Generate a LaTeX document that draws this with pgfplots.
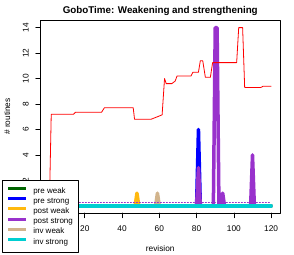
\documentclass[border=0pt]{standalone}
\usepackage{fontspec}
\setmainfont{Liberation Sans}
\usepackage{pgfplots}
\pgfplotsset{compat=1.18}
\definecolor{cpreweak}{RGB}{0,100,0}
\definecolor{cprestrong}{RGB}{0,0,255}
\definecolor{cpostweak}{RGB}{255,185,15}
\definecolor{cpoststrong}{RGB}{153,50,204}
\definecolor{cinvweak}{RGB}{210,180,140}
\definecolor{cinvstrong}{RGB}{0,206,209}
\begin{document}
\begin{tikzpicture}[x=1pt,y=1pt]
\path[use as bounding box] (0,0) rectangle (294,254);
\begin{axis}[
  at={(40.5pt,41pt)}, anchor=south west,
  width=239.5pt, height=192.5pt, scale only axis,
  xmin=-3.76, xmax=124.76, ymin=-0.56, ymax=14.56,
  axis line style={line width=0.7pt},
  xtick={0,20,...,120}, ytick={0,2,...,14},
  xtick pos=bottom, ytick pos=left,
  tick align=outside, major tick length=4.8pt,
  tick style={line width=0.6pt, black},
  /pgf/number format/assume math mode=true,
  ticklabel style={font=\fontsize{8.3}{10}\selectfont},
  xticklabel shift=4pt,
  yticklabel style={rotate=90, anchor=south},
  yticklabel shift=3.5pt,
  line join=round, line cap=round,
  legend style={at={(axis description cs:-0.1608,0.1714)}, anchor=north west,
    draw=black, line width=0.6pt, fill=white, inner xsep=4.5pt, inner ysep=5.5pt,
    font=\fontsize{8}{10}\selectfont, row sep=0pt,
    nodes={inner sep=1pt, text height=6.2pt, text depth=2pt},
    /tikz/every odd column/.append style={column sep=4.5pt}},
  legend cell align=left,
  legend image code/.code={\draw[#1, line width=3pt, line cap=butt] (0pt,2.5pt) -- (18pt,2.5pt);},
]
\addplot[cpreweak, line width=3.5pt] coordinates {(1,0) (120,0)};
\addlegendentry{pre weak}
\addplot[cprestrong, line width=3.5pt] coordinates {(1,0) (80,0) (81,6) (82,0) (120,0)};
\addlegendentry{pre strong}
\addplot[cpostweak, line width=3.5pt] coordinates {(1,0) (47,0) (48,1) (49,0) (120,0)};
\addlegendentry{post weak}
\addplot[cpoststrong, line width=3.5pt] coordinates {(1,0) (80,0) (81,3) (82,0) (89,0) (90,14) (91,14) (92,0) (93,0) (94,1) (95,0) (109,0) (110,4) (111,0) (120,0)};
\addlegendentry{post strong}
\addplot[cinvweak, line width=3.5pt] coordinates {(1,0) (58,0) (59,1) (60,0) (120,0)};
\addlegendentry{inv weak}
\addplot[cinvstrong, line width=3.5pt] coordinates {(1,0) (120,0)};
\addlegendentry{inv strong}
\addplot[cpoststrong, line width=1pt, dash pattern=on 1pt off 2pt, forget plot] coordinates {(1,0.3) (120,0.3)};
\addplot[red, line width=0.8pt, forget plot] coordinates {
(1,0) (2,7.2) (14,7.2) (15,7.35) (29,7.35) (30.5,7.7) (46,7.7) (46.7,6.8) (55.5,6.8) (59,7.0) (61.5,7.15) (62.8,10.0) (63.7,9.6) (66.7,9.6) (68.5,9.8) (69.5,10.2) (77,10.2) (78,10.5) (81,10.5) (82,11.4) (83.3,11.4) (84.7,10.1) (87.4,10.1) (88.6,11.25) (101.5,11.25) (102.6,14) (104.7,14) (105.8,9.3) (114.5,9.3) (115.7,9.4) (120,9.4)};
\end{axis}
\node[anchor=base, font=\fontsize{9.8}{12}\selectfont\bfseries] at (160.25,240) {GoboTime: Weakening and strengthening};
\node[anchor=base, font=\fontsize{8.3}{10}\selectfont] at (160.25,2.5) {revision};
\node[anchor=base, rotate=90, font=\fontsize{8.3}{10}\selectfont] at (10,137.5) {\# routines};
\end{tikzpicture}
\end{document}
